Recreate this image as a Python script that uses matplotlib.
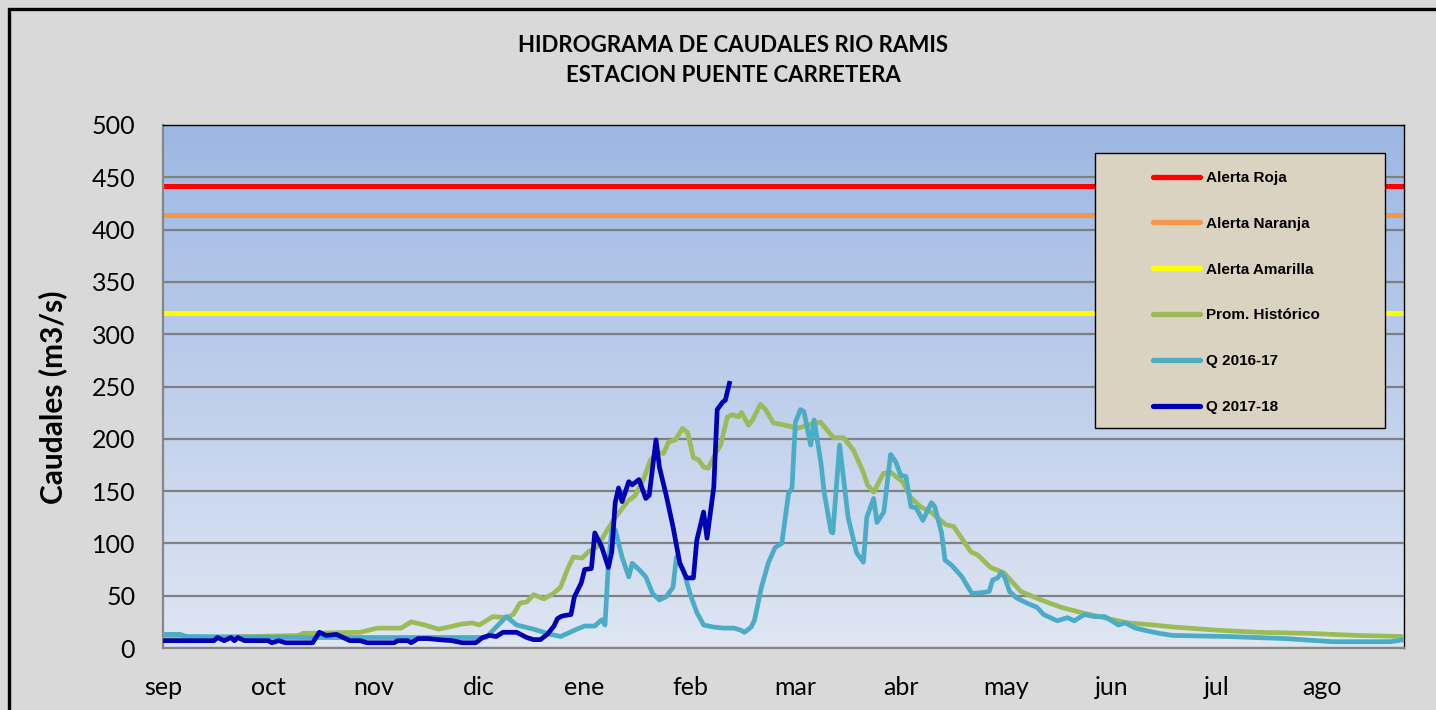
import numpy as np
import matplotlib
matplotlib.use("Agg")
import matplotlib.pyplot as plt
from matplotlib.patches import Rectangle
from matplotlib.lines import Line2D
from matplotlib.colors import to_rgb

# meses del año hidrológico (etiqueta cada 31 días)
meses = ["sep", "oct", "nov", "dic", "ene", "feb", "mar", "abr", "may", "jun", "jul", "ago"]

# umbrales de alerta (m3/s)
alertas = [442, 414, 320]
alertas_nombres = ["Alerta Roja", "Alerta Naranja", "Alerta Amarilla"]
alertas_colores = ["#FF0000", "#F79646", "#FFFF00"]

# promedio histórico (día del año hidrológico, caudal)
prom_dias = [0, 12, 40, 41, 58, 63, 70, 73, 77, 81, 84, 88, 91, 93, 97, 101, 103, 105, 107, 109,
             112, 114.8, 116.9, 118.9, 120.7, 123.3, 125.1, 127.8, 130.7, 133.1, 136.6, 138.9,
             141.3, 143.4, 145.7, 147.2, 148.7, 150.7, 152.8, 154.3, 156, 157.5, 159, 160.4,
             162.5, 164, 166, 167.5, 169.3, 170.2, 172.2, 173.4, 175.7, 177.2, 179.6, 183.1,
             186.6, 190.5, 193.4, 197.2, 200.2, 203.1, 206.1, 207.2, 209, 211.9, 214, 217.5,
             219.9, 222.8, 225.8, 230.2, 232.6, 237.6, 239.6, 243.4, 247.3, 252.3, 258.2,
             264.1, 269.9, 276.7, 283.8, 291.4, 297.3, 310.3, 322.1, 336.8, 351.5, 365]
prom_q = [10, 10, 12, 14, 15, 19, 19, 25, 22, 18, 20, 23, 24, 22, 30, 29, 32, 43, 44, 51,
          47, 52, 58, 75, 87, 86, 92, 97, 113, 125, 140, 146,
          161, 180, 187, 186, 197, 199, 210, 206, 182, 180, 173, 172,
          186, 194, 221, 223, 221, 225, 213, 218, 233, 228, 215, 213,
          210, 214, 216, 201, 201, 189, 167, 156, 149, 167, 168, 159,
          144, 135, 130, 118, 116, 92, 89, 77, 72, 54, 46,
          39, 34, 29, 24, 22, 20, 17, 15, 14, 12, 11]

# Q 2016-17
q16_dias = [0, 5, 7, 40, 95, 98, 101, 104, 109, 114, 117, 121, 124, 127, 129, 130, 131, 132,
            133, 135, 137, 138, 140, 142, 144, 146, 148, 150, 151, 153, 155, 157, 159, 162,
            165, 168, 170, 171, 173, 174, 176, 178, 180, 182, 184, 185, 186, 187.5, 188.5,
            190.5, 191.5, 193.5, 194.5, 196.5, 197, 199, 201.5, 204, 206, 207, 209, 210,
            212, 214, 215.5, 217, 218.5, 220, 221.5, 223.5, 226, 227, 229, 230, 232, 235,
            237, 238, 241, 243, 244, 245.5, 246.5, 247.5, 249, 251, 254, 257, 259, 263,
            266, 268, 271, 274, 277, 281, 283, 286, 290, 293, 297, 313, 330, 344, 361, 365]
q16_q = [13, 13, 11, 10, 10, 20, 30, 22, 18, 13, 11, 17, 21, 21, 27, 22, 81, 113,
         113, 87, 68, 81, 75, 68, 52, 46, 49, 58, 87, 75, 52, 34, 22, 20,
         19, 19, 17, 15, 20, 27, 58, 81, 96, 100, 148, 153, 216, 228, 226,
         194, 218, 177, 148, 111, 110, 194, 125, 91, 82, 125, 143, 120,
         130, 185, 178, 165, 164, 135, 134, 122, 139, 135, 110, 84, 79, 68,
         57, 52, 53, 54, 65, 67, 72, 68, 54, 48, 43, 39, 32, 26,
         29, 26, 32, 30, 30, 22, 24, 19, 16, 14, 12, 11, 9, 6, 6, 8]

# Q 2017-18
q17_dias = [0, 15, 16, 18, 20, 21, 22, 24, 31, 32, 34, 36, 44, 46, 48, 51, 53, 55, 58, 60,
            68, 69, 72, 73, 75, 78, 81, 85, 88, 92, 94, 96, 98, 100, 104, 107, 109, 111,
            113, 115, 116, 117, 118, 120, 121, 123, 124, 126, 127, 129, 131, 132, 133, 134,
            135, 137, 138, 140, 142, 143, 145, 146, 148, 150, 152, 154, 156, 157, 159, 160,
            162, 163, 164.6, 165.4, 166.6]
q17_q = [7, 7, 10, 7, 10, 7, 10, 7, 7, 5, 7, 5, 5, 15, 12, 13, 10, 7, 7, 5,
         5, 7, 7, 5, 9, 9, 8, 7, 5, 5, 10, 12, 11, 15, 15, 10, 8, 8,
         13, 21, 28, 30, 31, 32, 49, 62, 75, 76, 110, 97, 77, 92, 139, 153,
         140, 159, 156, 161, 143, 146, 199, 173, 146, 116, 81, 67, 67, 103, 130, 105,
         154, 228, 235, 237, 253]

series = [
    (prom_dias, prom_q, "Prom. Histórico", "#9BBB59"),
    (q16_dias, q16_q, "Q 2016-17", "#4BACC6"),
    (q17_dias, q17_q, "Q 2017-18", "#0000B4"),
]

plt.rcParams['font.family'] = ['Lato', 'DejaVu Sans']

fig = plt.figure(figsize=(14.36, 7.10), dpi=100, facecolor="#D9D9D9")
ax = fig.add_axes([163 / 1436, 62 / 710, 1241 / 1436, 523 / 710])

# fondo degradado del área de trazado
top = np.array(to_rgb("#9DB7E3"))
bot = np.array(to_rgb("#DFE6F3"))
t = np.linspace(0, 1, 256)[:, None, None]
grad = top * (1 - t) + bot * t
ax.imshow(grad, extent=[0, 1, 0, 1], transform=ax.transAxes, aspect="auto", zorder=0)

ax.set_xlim(0, 365)
ax.set_ylim(0, 500)
ax.set_yticks(np.arange(0, 501, 50))
ax.set_xticks(np.arange(len(meses)) * 31)
ax.set_xticklabels(meses)
ax.grid(axis="y", color="#808080", lw=1.6, zorder=1)
ax.tick_params(axis="both", length=0, labelsize=18)
ax.tick_params(axis="y", pad=20)
ax.tick_params(axis="x", pad=20)

for s in ["left", "bottom"]:
    ax.spines[s].set_color("#868686")
    ax.spines[s].set_linewidth(1.6)
for s in ["top", "right"]:
    ax.spines[s].set_color("black")
    ax.spines[s].set_linewidth(1.0)

handles = []
for val, nom, col in zip(alertas, alertas_nombres, alertas_colores):
    ax.axhline(val, color=col, lw=3.6, zorder=2)
    handles.append(Line2D([], [], color=col, lw=3.8, solid_capstyle="round", label=nom))
for i, (xd, yd, nom, col) in enumerate(series):
    ax.plot(xd, yd, color=col, lw=3.4, zorder=3 + i)
    handles.append(Line2D([], [], color=col, lw=3.8, solid_capstyle="round", label=nom))

ax.set_ylabel("Caudales (m3/s)", fontsize=21.5, fontweight="bold")
ax.yaxis.set_label_coords(-0.077, 0.48)

fig.text(733 / 1436, 1 - 45 / 710, "HIDROGRAMA DE CAUDALES RIO RAMIS", ha="center", va="center",
         fontsize=16, fontweight="bold")
fig.text(733 / 1436, 1 - 76 / 710, "ESTACION PUENTE CARRETERA", ha="center", va="center",
         fontsize=16, fontweight="bold")

# marco exterior
fig.add_artist(Rectangle((9 / 1436, -0.2), 1.2, 1.2 - 9 / 710,
                         transform=fig.transFigure, fill=False, edgecolor="black", lw=2.4, zorder=10))

# cuadro de leyenda
fig.add_artist(Rectangle((1095 / 1436, 1 - 428 / 710), 290 / 1436, 275 / 710,
                         transform=fig.transFigure, facecolor="#DBD3C2", edgecolor="black",
                         lw=1.0, zorder=4))
leg = fig.legend(handles=handles, loc="upper left",
                 bbox_to_anchor=(1153 / 1436, 1 - 171 / 710), bbox_transform=fig.transFigure,
                 frameon=False, borderpad=0, borderaxespad=0, handlelength=3.1,
                 handletextpad=0.35, labelspacing=2.08,
                 prop={"family": ["Liberation Sans", "DejaVu Sans"], "weight": "bold", "size": 11})
leg.set_zorder(6)

fig.savefig("out.png", dpi=100, facecolor=fig.get_facecolor())
